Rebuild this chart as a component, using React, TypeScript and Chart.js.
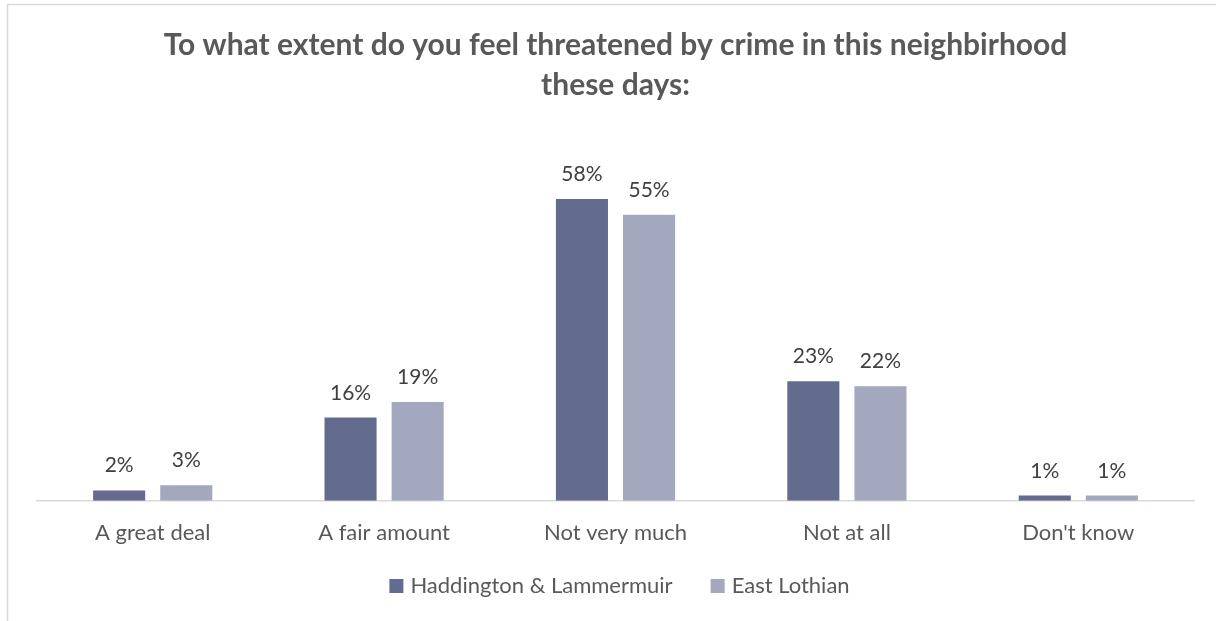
import React, { useEffect, useRef } from "react";
import { Chart, registerables } from "chart.js";

Chart.register(...registerables);

const categories = ["A great deal", "A fair amount", "Not very much", "Not at all", "Don't know"];
const haddington = [2, 16, 58, 23, 1];
const eastLothian = [3, 19, 55, 22, 1];
const seriesNames = ["Haddington & Lammermuir", "East Lothian"];
const seriesColors = ["#636b8f", "#a3a8bf"];
const titleLines = ["To what extent do you feel threatened by crime in this neighbirhood", "these days:"];

const FONT = "Lato, 'Open Sans', sans-serif";

const dataLabels = {
  id: "dataLabels",
  afterDatasetsDraw(chart: any) {
    const ctx = chart.ctx;
    ctx.save();
    ctx.font = `21px ${FONT}`;
    ctx.fillStyle = "#404040";
    ctx.textAlign = "center";
    ctx.textBaseline = "alphabetic";
    chart.data.datasets.forEach((ds: any, di: number) => {
      const meta = chart.getDatasetMeta(di);
      meta.data.forEach((el: any, i: number) => {
        ctx.fillText(`${ds.data[i]}%`, el.x, el.y - 18);
      });
    });
    ctx.restore();
  },
};

const frame = {
  id: "frame",
  beforeDraw(chart: any) {
    const ctx = chart.ctx;
    ctx.save();
    ctx.fillStyle = "#ffffff";
    ctx.fillRect(0, 0, chart.width, chart.height);
    ctx.strokeStyle = "#d9d9d9";
    ctx.lineWidth = 1.5;
    ctx.strokeRect(7.5, 4.5, chart.width + 20, chart.height + 20);
    ctx.restore();
  },
};

// Legend drawn from the chart's own datasets (swatch 14px, 7px gap to text, 38px between items)
const bottomLegend = {
  id: "bottomLegend",
  afterDraw(chart: any) {
    const ctx = chart.ctx;
    ctx.save();
    ctx.font = `22px ${FONT}`;
    const items = chart.data.datasets.map((ds: any) => ({
      text: ds.label,
      color: ds.backgroundColor,
      w: 14 + 7 + ctx.measureText(ds.label).width,
    }));
    const gap = 38;
    const total = items.reduce((s: number, it: any) => s + it.w, 0) + gap * (items.length - 1);
    const centerX = (chart.chartArea.left + chart.chartArea.right) / 2 + 4;
    const cy = 586;
    let x = centerX - total / 2;
    ctx.textAlign = "left";
    ctx.textBaseline = "middle";
    items.forEach((it: any) => {
      ctx.fillStyle = it.color;
      ctx.fillRect(x, cy - 7, 14, 14);
      ctx.fillStyle = "#595959";
      ctx.fillText(it.text, x + 21, cy);
      x += it.w + gap;
    });
    ctx.restore();
  },
};

export default function App() {
  const ref = useRef<HTMLCanvasElement>(null);
  useEffect(() => {
    if (!ref.current) return;
    const chart = new Chart(ref.current, {
      type: "bar",
      data: {
        labels: categories,
        datasets: [
          { label: seriesNames[0], data: haddington, backgroundColor: seriesColors[0], categoryPercentage: 0.58, barPercentage: 0.776 },
          { label: seriesNames[1], data: eastLothian, backgroundColor: seriesColors[1], categoryPercentage: 0.58, barPercentage: 0.776 },
        ],
      },
      options: {
        responsive: false,
        animation: false,
        layout: { padding: { left: 37, right: 22, top: 0, bottom: 64.2 } },
        scales: {
          x: {
            grid: { display: false },
            border: { display: true, color: "#d9d9d9", width: 1.5 },
            ticks: { font: { family: FONT, size: 22 }, color: "#595959", padding: 10.8 },
          },
          y: { display: false, min: 0, max: 70 },
        },
        plugins: {
          title: {
            display: true,
            text: titleLines,
            font: { family: FONT, size: 30, weight: "bold", lineHeight: 40 / 30 },
            color: "#595959",
            padding: { top: 25, bottom: 31.7 },
          },
          legend: { display: false },
          tooltip: { enabled: false },
        },
      },
      plugins: [frame, dataLabels, bottomLegend],
    });
    return () => chart.destroy();
  }, []);
  return (
    <div style={{ position: "fixed", left: 0, top: 0, width: 1216, height: 621, overflow: "hidden", background: "#fff" }}>
      <canvas ref={ref} width={1216} height={621} style={{ display: "block" }} />
    </div>
  );
}
